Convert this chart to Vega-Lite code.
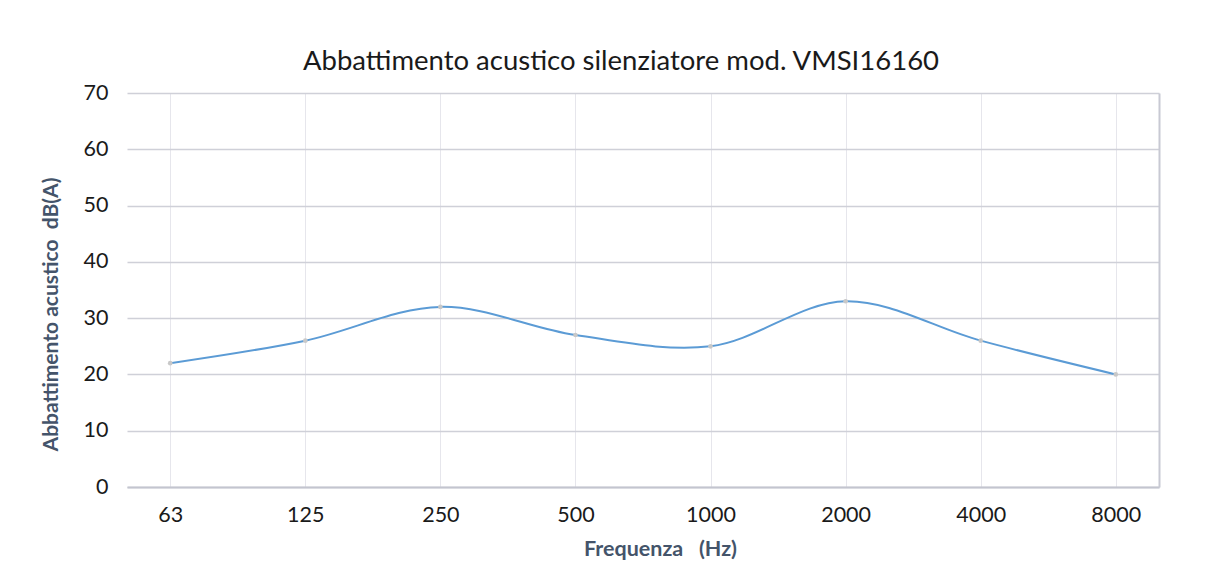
{
  "$schema": "https://vega.github.io/schema/vega-lite/v6.json",
  "width": 1032,
  "height": 394,
  "autosize": {"type": "none"},
  "padding": {"left": 127, "top": 93, "right": 65, "bottom": 95},
  "background": "white",
  "config": {
    "font": "Lato",
    "view": {"stroke": null},
    "axis": {
      "labelFont": "Lato",
      "titleFont": "Lato",
      "labelFontSize": 21.5,
      "labelColor": "#1a1a1a",
      "titleFontSize": 21,
      "titleFontWeight": "bold",
      "titleColor": "#44546A",
      "ticks": false
    }
  },
  "title": {
    "text": "Abbattimento acustico silenziatore mod. VMSI16160",
    "fontSize": 27.5,
    "font": "Lato",
    "fontWeight": "normal",
    "color": "#1a1a1a",
    "anchor": "middle",
    "offset": 7,
    "dx": -22
  },
  "data": {
    "values": [
      {"freq": "63", "db": 22},
      {"freq": "125", "db": 26},
      {"freq": "250", "db": 32},
      {"freq": "500", "db": 27},
      {"freq": "1000", "db": 25},
      {"freq": "2000", "db": 33},
      {"freq": "4000", "db": 26},
      {"freq": "8000", "db": 20}
    ]
  },
  "layer": [
    {
      "mark": {"type": "line", "interpolate": "catmull-rom", "color": "#5b9bd5", "strokeWidth": 2},
      "encoding": {
        "x": {
          "field": "freq",
          "type": "ordinal",
          "sort": null,
          "scale": {"type": "point", "padding": 0.32},
          "axis": {
            "title": "Frequenza\u00a0\u00a0\u00a0(Hz)",
            "titleFontSize": 21.5,
            "titlePadding": 13,
            "titleX": 533,
            "labelAngle": 0,
            "labelFontSize": 21.5,
            "labelPadding": 17,
            "domainColor": "#c3c5cf",
            "domainWidth": 2,
            "grid": true,
            "gridColor": "#e6e6ec",
            "gridWidth": 1
          }
        },
        "y": {
          "field": "db",
          "type": "quantitative",
          "scale": {"domain": [0, 70], "nice": false},
          "axis": {
            "title": "Abbattimento acustico\u00a0\u00a0dB(A)",
            "titleFontSize": 21,
            "titlePadding": 22,
            "titleY": 221,
            "values": [0, 10, 20, 30, 40, 50, 60, 70],
            "labelFontSize": 21.5,
            "labelPadding": 19,
            "domain": false,
            "grid": true,
            "gridColor": "#cfd0d8",
            "gridWidth": 1.5
          }
        }
      }
    },
    {
      "mark": {"type": "point", "filled": true, "color": "#c8c8c8", "size": 22, "opacity": 1},
      "encoding": {
        "x": {"field": "freq", "type": "ordinal", "sort": null},
        "y": {"field": "db", "type": "quantitative", "scale": {"domain": [0, 70], "nice": false}, "axis": null}
      }
    },
    {
      "mark": {"type": "point", "opacity": 0},
      "encoding": {
        "x": {"field": "freq", "type": "ordinal", "sort": null},
        "y": {
          "field": "db",
          "type": "quantitative",
          "scale": {"domain": [0, 70], "nice": false},
          "axis": {
            "orient": "right",
            "title": null,
            "labels": false,
            "ticks": false,
            "grid": false,
            "domain": true,
            "domainColor": "#c8c9d3",
            "domainWidth": 2
          }
        }
      }
    }
  ],
  "resolve": {"axis": {"y": "independent"}}
}
